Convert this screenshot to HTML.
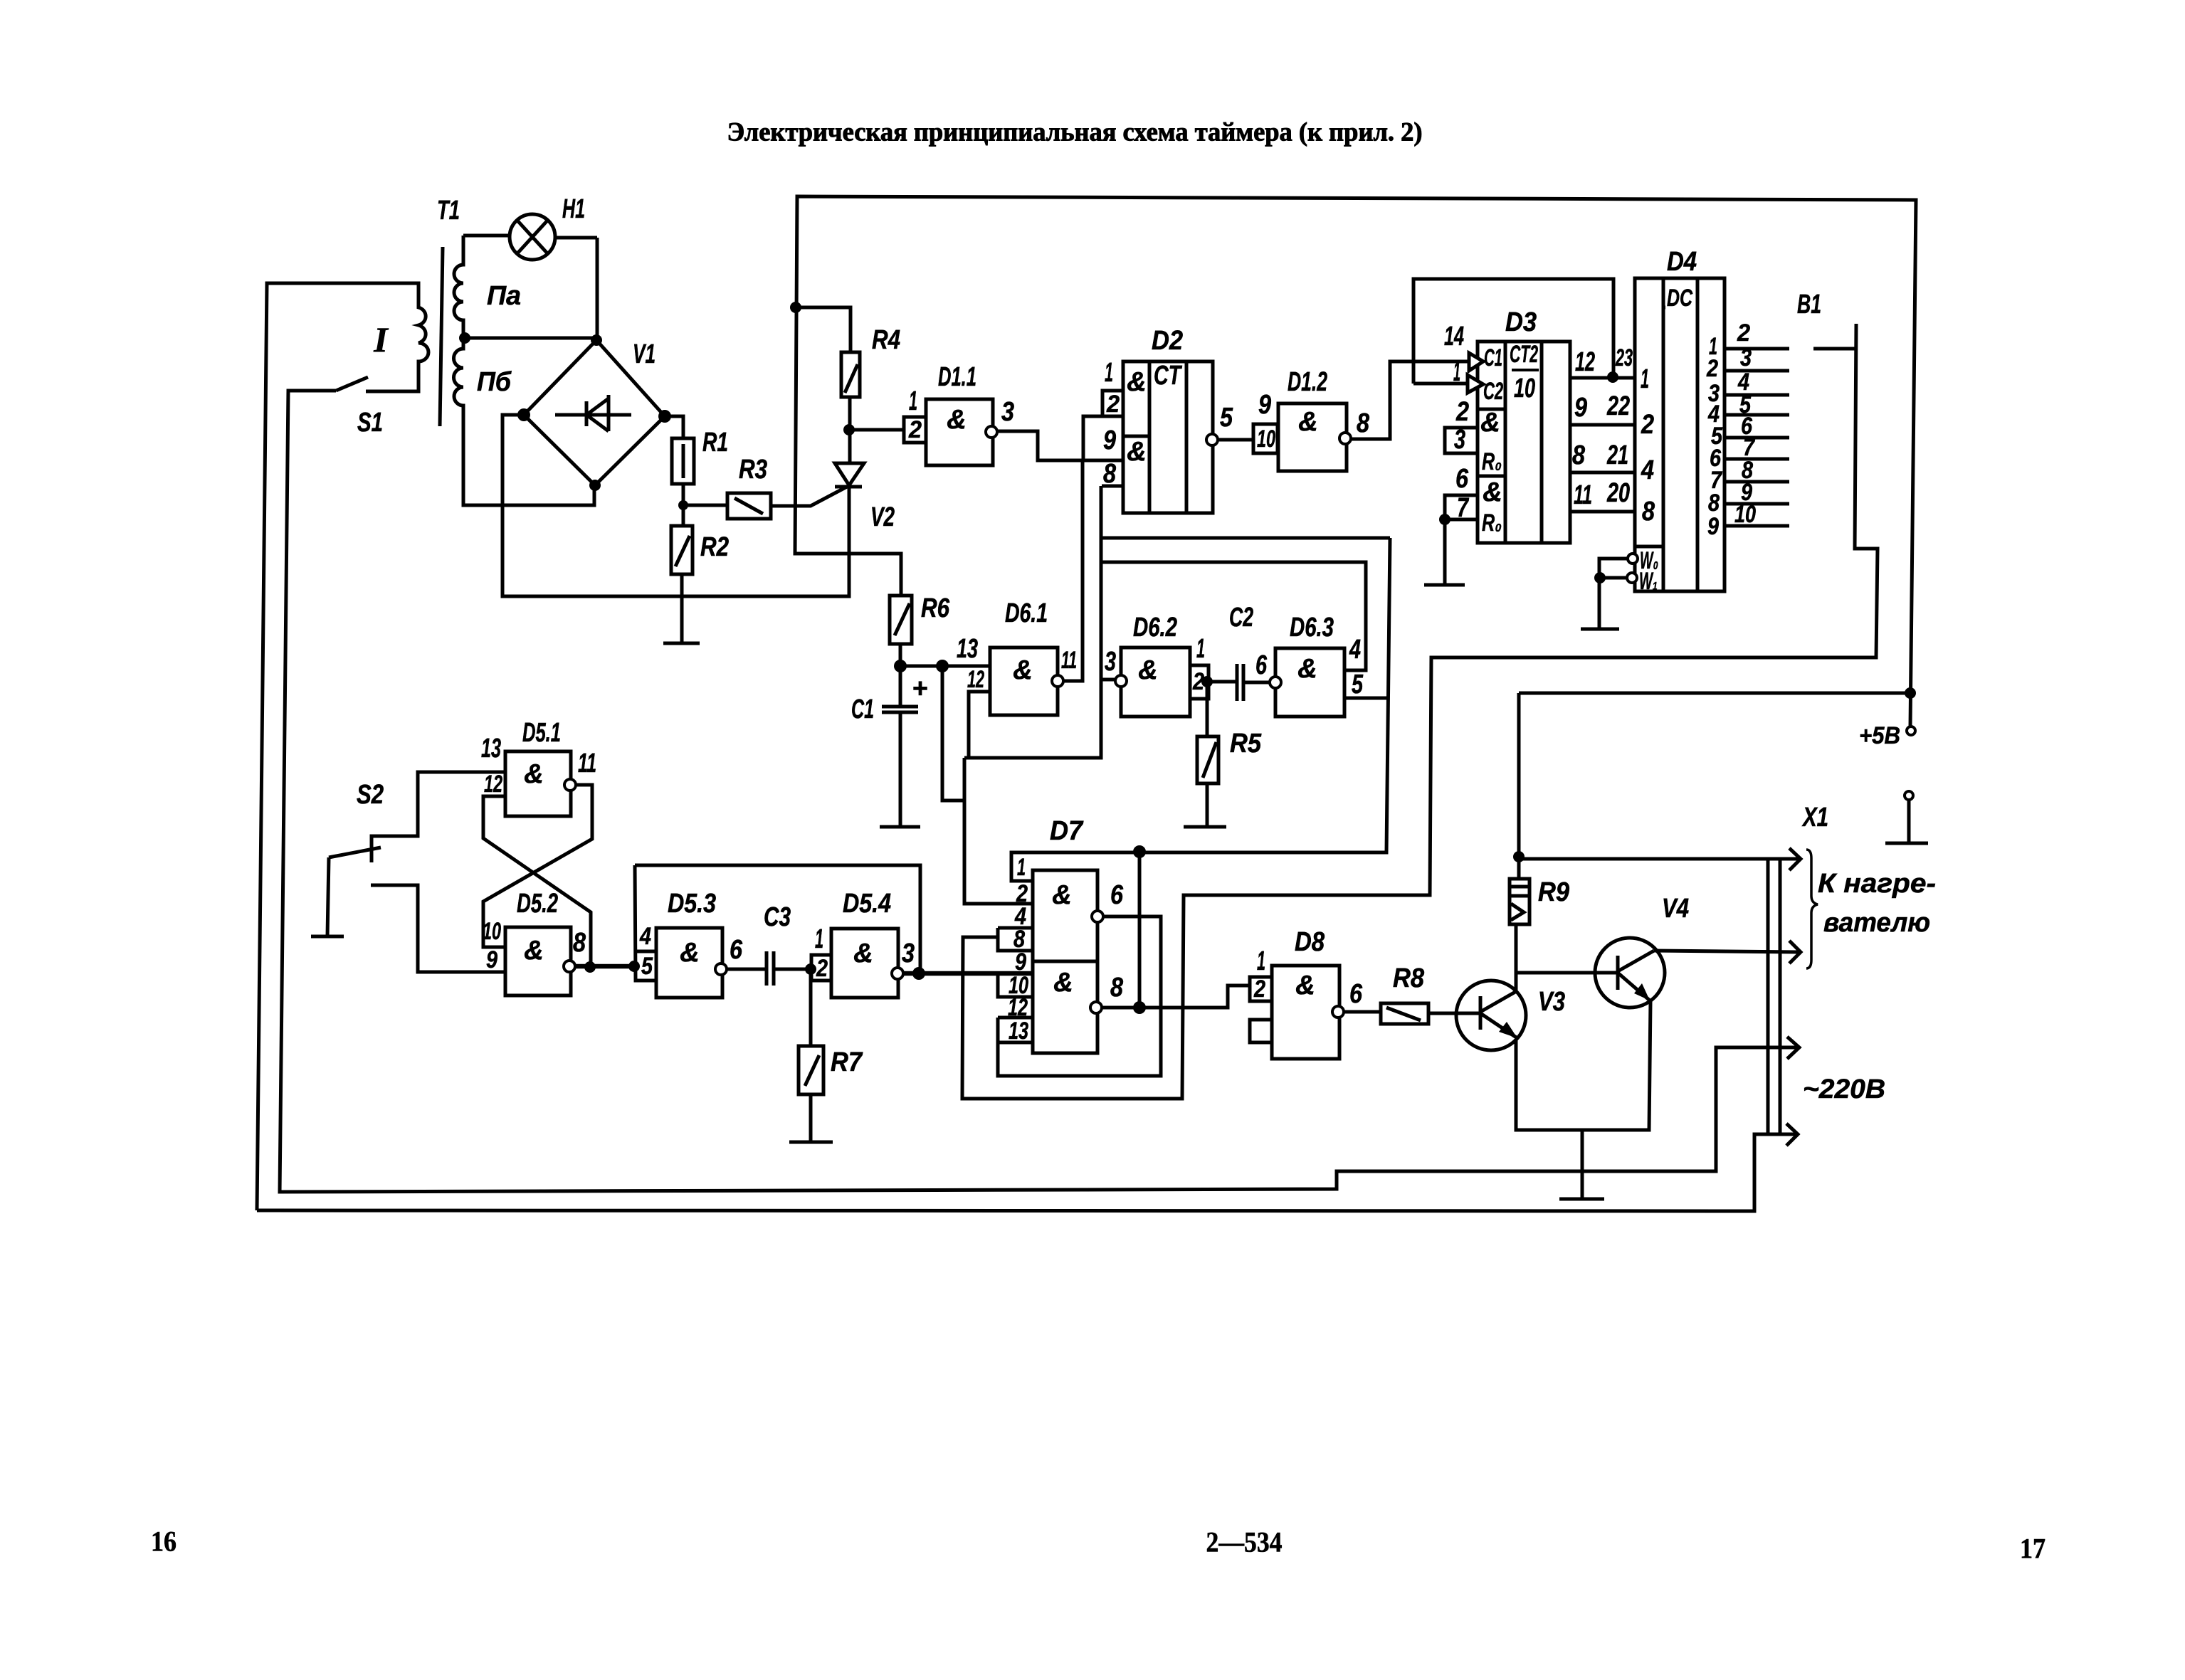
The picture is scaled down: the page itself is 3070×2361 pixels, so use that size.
<!DOCTYPE html>
<html><head><meta charset="utf-8"><style>
html,body{margin:0;padding:0;background:#fff}
svg{display:block}
.w{fill:none;stroke:#000;stroke-width:5;stroke-linejoin:miter}
.t{stroke-width:3.5}
.b{stroke-width:6.5}
.n{fill:#000}
.o{fill:#fff;stroke:#000;stroke-width:4}
text{font-family:"Liberation Sans","Noto Sans CJK SC",sans-serif;font-style:italic;font-weight:bold;font-size:38px;text-anchor:middle;dominant-baseline:central;fill:#000;stroke:#000;stroke-width:.6}
.s{font-size:34px}
.h{font-family:"Liberation Serif","Noto Serif CJK SC",serif;font-style:normal;font-weight:bold;font-size:37px;stroke-width:1}
.p{font-family:"Liberation Serif","Noto Serif CJK SC",serif;font-style:normal;font-weight:bold;font-size:40px}
.i{font-family:"Liberation Serif",serif;font-size:50px}
</style></head><body>
<svg xmlns="http://www.w3.org/2000/svg" width="3070" height="2361" viewBox="0 0 3070 2361">
<rect width="3070" height="2361" fill="#fff"/>
<g class="w">
<!-- power rail -->
<path d="M1266 837V778H1117L1120 276L2692 281L2684 1021"/>
<path d="M1118 432H1195V495M1194 558V651M1193 604H1270M1193 684V838H706V583H736M1085 711H1139L1190 684M960 710H1022"/>
<path d="M838 478L934 585L836 682L736 583Z"/>
<path d="M653 475H838M839 334V478M651 331H716M780 334H839"/>
<path d="M651 331V372a13 13 0 0 0 0 26a13 13 0 0 0 0 26a13 13 0 0 0 0 26V490a13 13 0 0 0 0 27a13 13 0 0 0 0 27a13 13 0 0 0 0 26V710H835V682"/>
<path d="M622 347L618 599"/>
<path d="M361 1701L375 398H588V432a14 13 0 0 1 0 25a14 13 0 0 1 0 25a14 13 0 0 1 0 26V550H514M472 549L517 530M472 549H405L393 1675L1878 1671V1646H2411V1472H2527"/>
<path d="M361 1701L2465 1702V1594H2525"/>
<path d="M934 585H960V616M960 680V739M958 807V904M932 904H983"/>
<path d="M2511 1457L2528 1472L2511 1488M2510 1579L2526 1594L2510 1610M2514 1192L2530 1207L2514 1223M2514 1322L2530 1338L2514 1354"/>
<!-- lamp -->
<circle cx="748" cy="333" r="32"/><path d="M727 310L769 356M769 310L727 356"/>
<!-- bridge diode -->
<path d="M780 583H887M824 564V599M855 555V606M824 583L855 560M824 583L855 606"/>
<!-- resistors R1 R2 R3 R4 -->
<rect x="944" y="616" width="31" height="64"/><path d="M960 624V672"/>
<rect x="943" y="739" width="30" height="68"/><path d="M949 796L969 753"/>
<rect x="1022" y="693" width="61" height="36"/><path d="M1032 700L1072 722"/>
<rect x="1182" y="495" width="26" height="63"/><path d="M1187 552L1205 512"/>
<path d="M1173 651H1214L1193 682ZM1173 684H1211"/>
<!-- D1.1 -->
<rect x="1301" y="561" width="94" height="93"/><rect x="1270" y="586" width="31" height="36"/>
<path d="M1401 606H1458V647H1576M1522 647V585H1576M1549 585V549H1576M1548 683H1576M1521 647V957H1494"/>
<!-- D2 -->
<rect x="1578" y="508" width="126" height="213"/><path d="M1615 508V721M1667 508V721M1578 613H1615"/>
<path d="M1712 618H1761"/><rect x="1761" y="596" width="34" height="41"/>
<rect x="1796" y="567" width="96" height="95"/>
<path d="M1898 617H1953V508H2064M1986 539V392H2267V530M1986 539H2062"/>
<!-- D3 -->
<rect x="2076" y="480" width="130" height="283"/><path d="M2115 480V763M2166 480V763M2076 575H2115M2076 669H2115"/>
<path d="M2064 496V521L2084 508ZM2062 527V552L2084 540Z" fill="#fff"/>
<path d="M2076 601H2030V637H2076M2076 696H2030V821M2030 730H2076M2001 822H2058"/>
<path d="M2206 531H2297M2206 597H2297M2206 664H2297M2206 719H2297"/>
<!-- D4 -->
<rect x="2297" y="391" width="126" height="440"/><path d="M2337 391V831M2385 391V831M2297 768H2337M2337 432H2340"/>
<path d="M2286 785H2247V884M2248 812H2285M2221 884H2275"/>
<path d="M2423 490H2514M2423 521H2514M2423 555H2514M2423 583H2514M2423 615H2514M2423 645H2514M2423 677H2514M2423 708H2514M2423 739H2514"/>
<path d="M2548 490H2607M2608 455L2606 771H2638L2636 924H2011L2009 1258H1663L1661 1544H1352L1353 1317H1402"/>
<!-- D6 block -->
<rect x="1391" y="910" width="95" height="95"/>
<path d="M1265 905V993M1265 1001V1162M1236 1162H1293M1239 993H1290M1239 1001H1290M1265 936H1391"/>
<rect x="1250" y="837" width="31" height="68"/><path d="M1257 893L1278 848"/>
<path d="M1324 936V1125H1355M1391 972H1361V1065M1355 1065H1547V683M1547 955H1567"/>
<rect x="1575" y="910" width="97" height="97"/><rect x="1672" y="935" width="26" height="47"/>
<path d="M1696 958V1035M1696 1101V1162M1663 1162H1723M1698 958H1738M1747 959H1784M1738 933V985M1747 933V985"/>
<rect x="1682" y="1035" width="30" height="66"/><path d="M1690 1093L1709 1043"/>
<rect x="1792" y="911" width="97" height="96"/>
<path d="M1889 942H1919V790H1548M1889 981H1948M1953 756H1548M1953 756L1948 1198H1421V1238H1451"/>
<!-- D5 -->
<rect x="710" y="1056" width="92" height="91"/><rect x="710" y="1303" width="92" height="96"/>
<path d="M810 1103H832V1179L679 1267V1331H710M710 1119H679V1178L830 1282V1358"/>
<path d="M710 1085H587V1175H522V1206M462 1205L535 1191M522 1190V1212M462 1205L460 1316M437 1316H483M521 1244H587V1366H710"/>
<path class="b" d="M808 1358H891"/>
<rect x="922" y="1304" width="93" height="98"/>
<path d="M892 1216L893 1378H922M893 1337H922M892 1216H1293V1368"/>
<path d="M1022 1362H1077M1087 1362H1139M1077 1337V1385M1087 1337V1385"/>
<rect x="1168" y="1305" width="94" height="97"/><rect x="1140" y="1342" width="28" height="36"/>
<path d="M1139 1362V1470M1139 1538V1605M1109 1605H1170"/>
<rect x="1122" y="1470" width="35" height="68"/><path d="M1131 1526L1151 1483"/>
<path class="b" d="M1270 1368H1451"/>
<!-- D7 -->
<rect x="1451" y="1223" width="91" height="257"/><path d="M1451 1351H1542"/>
<path d="M1421 1196V1238M1355 1065V1270H1451M1402 1304H1451M1402 1304V1336H1451M1402 1371V1401H1451M1402 1430H1451M1402 1465H1451M1402 1430V1512H1631V1288H1550M1548 1416H1725V1385H1756M1601 1197V1416"/>
<!-- D8 -->
<rect x="1787" y="1357" width="95" height="131"/><rect x="1756" y="1373" width="31" height="34"/><rect x="1756" y="1433" width="31" height="32"/>
<path d="M1888 1422H1940M2007 1424H2080"/>
<rect x="1940" y="1410" width="67" height="29"/><path d="M1948 1416L1996 1434"/>
<!-- transistors -->
<circle cx="2095" cy="1427" r="49"/><circle cx="2290" cy="1367" r="49"/>
<path d="M2080 1400V1447M2080 1422L2129 1394M2080 1424L2132 1459M2273 1343V1391M2273 1365L2324 1336M2273 1367L2318 1406"/>
<path d="M2134 974V1235M2134 974H2684M2134 1207H2527M2130 1299V1394M2130 1367H2273M2130 1460V1588H2317L2319 1407M2223 1588V1685M2191 1685H2254M2324 1336L2527 1338"/>
<rect x="2121" y="1235" width="28" height="64"/><path d="M2121 1246H2149M2121 1259H2149M2123 1270L2141 1282L2123 1293"/>
<path d="M2484 1207V1594M2501 1207V1594"/>
<path class="t" d="M2538 1194q7 0 7 12V1259q0 10 9 12q-9 2 -9 12V1349q0 12 -7 12"/>
<path d="M2682 1124V1185M2649 1185H2709"/>
</g>
<g class="n">
<circle cx="1118" cy="432" r="8"/><circle cx="1193" cy="604" r="8"/><circle cx="838" cy="478" r="8"/><circle cx="653" cy="475" r="8"/><circle cx="736" cy="583" r="9"/><circle cx="934" cy="585" r="9"/><circle cx="836" cy="682" r="8"/><circle cx="960" cy="710" r="7"/>
<circle cx="2030" cy="730" r="8"/><circle cx="2266" cy="530" r="8"/><circle cx="2248" cy="812" r="8"/><circle cx="2684" cy="974" r="8"/><circle cx="2134" cy="1204" r="8"/>
<circle cx="1265" cy="936" r="9"/><circle cx="1324" cy="936" r="9"/><circle cx="1696" cy="958" r="8"/><circle cx="1601" cy="1197" r="9"/><circle cx="1601" cy="1416" r="9"/>
<circle cx="829" cy="1359" r="8"/><circle cx="891" cy="1358" r="8"/><circle cx="1139" cy="1362" r="8"/><circle cx="1291" cy="1368" r="9"/>
<polygon points="2132,1459 2106,1450 2117,1436"/><polygon points="2318,1406 2296,1396 2307,1382"/>
</g>
<g class="o">
<circle cx="1393" cy="607" r="8"/><circle cx="1703" cy="618" r="8"/><circle cx="1890" cy="616" r="8"/><circle cx="2294" cy="785" r="7"/><circle cx="2293" cy="812" r="7"/>
<circle cx="1486" cy="957" r="8"/><circle cx="1575" cy="957" r="8"/><circle cx="1792" cy="959" r="8"/>
<circle cx="801" cy="1103" r="8"/><circle cx="800" cy="1358" r="8"/><circle cx="1013" cy="1362" r="8"/><circle cx="1261" cy="1368" r="8"/>
<circle cx="1542" cy="1288" r="8"/><circle cx="1540" cy="1416" r="8"/><circle cx="1880" cy="1422" r="8"/><circle cx="2685" cy="1027" r="6"/><circle cx="2682" cy="1118" r="6"/>
</g>
<text class="h" x="1510" y="186" textLength="977" lengthAdjust="spacingAndGlyphs">Электрическая принципиальная схема таймера (к прил. 2)</text>
<text class="p" x="230" y="2166" textLength="36" lengthAdjust="spacingAndGlyphs">16</text>
<text class="p" x="1748" y="2167" textLength="107" lengthAdjust="spacingAndGlyphs">2—534</text>
<text class="p" x="2856" y="2176" textLength="36" lengthAdjust="spacingAndGlyphs">17</text>
<text x="630" y="296" textLength="32" lengthAdjust="spacingAndGlyphs">T1</text>
<text x="806" y="294" textLength="32" lengthAdjust="spacingAndGlyphs">H1</text>
<text x="708" y="416" textLength="48" lengthAdjust="spacingAndGlyphs">Пa</text>
<text x="694" y="537" textLength="48" lengthAdjust="spacingAndGlyphs">Пб</text>
<text class="i" x="535" y="477">I</text>
<text x="520" y="594" textLength="36" lengthAdjust="spacingAndGlyphs">S1</text>
<text x="905" y="498" textLength="32" lengthAdjust="spacingAndGlyphs">V1</text>
<text x="1005" y="622" textLength="36" lengthAdjust="spacingAndGlyphs">R1</text>
<text x="1058" y="660" textLength="40" lengthAdjust="spacingAndGlyphs">R3</text>
<text x="1004" y="769" textLength="40" lengthAdjust="spacingAndGlyphs">R2</text>
<text x="1245" y="478" textLength="40" lengthAdjust="spacingAndGlyphs">R4</text>
<text x="1240" y="727" textLength="34" lengthAdjust="spacingAndGlyphs">V2</text>
<text x="1345" y="530" textLength="54" lengthAdjust="spacingAndGlyphs">D1.1</text>
<text x="1344" y="590">&amp;</text>
<text x="1283" y="564" textLength="12" lengthAdjust="spacingAndGlyphs">1</text>
<text class="s" x="1286" y="604" textLength="18" lengthAdjust="spacingAndGlyphs">2</text>
<text x="1416" y="579" textLength="18" lengthAdjust="spacingAndGlyphs">3</text>
<text x="1640" y="479" textLength="44" lengthAdjust="spacingAndGlyphs">D2</text>
<text x="1558" y="524" textLength="12" lengthAdjust="spacingAndGlyphs">1</text>
<text class="s" x="1564" y="568" textLength="18" lengthAdjust="spacingAndGlyphs">2</text>
<text x="1559" y="619" textLength="18" lengthAdjust="spacingAndGlyphs">9</text>
<text x="1559" y="666" textLength="18" lengthAdjust="spacingAndGlyphs">8</text>
<text x="1597" y="537">&amp;</text><text x="1597" y="635">&amp;</text>
<text x="1640" y="528" textLength="38" lengthAdjust="spacingAndGlyphs">CT</text>
<text x="1723" y="587" textLength="18" lengthAdjust="spacingAndGlyphs">5</text>
<text x="1777" y="569" textLength="18" lengthAdjust="spacingAndGlyphs">9</text>
<text class="s" x="1779" y="617" textLength="26" lengthAdjust="spacingAndGlyphs">10</text>
<text x="1837" y="537" textLength="56" lengthAdjust="spacingAndGlyphs">D1.2</text>
<text x="1838" y="593">&amp;</text>
<text x="1915" y="595" textLength="18" lengthAdjust="spacingAndGlyphs">8</text>
<text x="2137" y="453" textLength="44" lengthAdjust="spacingAndGlyphs">D3</text>
<text x="2043" y="473" textLength="28" lengthAdjust="spacingAndGlyphs">14</text>
<text x="2047" y="523" textLength="10" lengthAdjust="spacingAndGlyphs">1</text>
<text class="s" x="2098" y="503" textLength="26" lengthAdjust="spacingAndGlyphs">C1</text>
<text class="s" x="2098" y="550" textLength="28" lengthAdjust="spacingAndGlyphs">C2</text>
<text class="s" x="2141" y="498" textLength="40" lengthAdjust="spacingAndGlyphs">CT2</text>
<path d="M2124 520H2162" stroke="#000" stroke-width="4"/>
<text x="2142" y="546" textLength="30" lengthAdjust="spacingAndGlyphs">10</text>
<text x="2055" y="579" textLength="18" lengthAdjust="spacingAndGlyphs">2</text>
<text x="2051" y="618" textLength="16" lengthAdjust="spacingAndGlyphs">3</text>
<text x="2094" y="594">&amp;</text>
<text class="s" x="2096" y="649" textLength="28" lengthAdjust="spacingAndGlyphs">R₀</text>
<text x="2054" y="673" textLength="18" lengthAdjust="spacingAndGlyphs">6</text>
<text x="2055" y="714" textLength="16" lengthAdjust="spacingAndGlyphs">7</text>
<text x="2097" y="692">&amp;</text>
<text class="s" x="2096" y="735" textLength="28" lengthAdjust="spacingAndGlyphs">R₀</text>
<text x="2227" y="509" textLength="28" lengthAdjust="spacingAndGlyphs">12</text>
<text class="s" x="2282" y="503" textLength="24" lengthAdjust="spacingAndGlyphs">23</text>
<text x="2221" y="573" textLength="18" lengthAdjust="spacingAndGlyphs">9</text>
<text x="2274" y="571" textLength="32" lengthAdjust="spacingAndGlyphs">22</text>
<text x="2218" y="640" textLength="18" lengthAdjust="spacingAndGlyphs">8</text>
<text x="2273" y="640" textLength="30" lengthAdjust="spacingAndGlyphs">21</text>
<text x="2224" y="696" textLength="26" lengthAdjust="spacingAndGlyphs">11</text>
<text x="2274" y="693" textLength="32" lengthAdjust="spacingAndGlyphs">20</text>
<text x="2363" y="368" textLength="42" lengthAdjust="spacingAndGlyphs">D4</text>
<text class="s" x="2360" y="419" textLength="36" lengthAdjust="spacingAndGlyphs">DC</text>
<text x="2311" y="533" textLength="12" lengthAdjust="spacingAndGlyphs">1</text>
<text x="2315" y="597" textLength="18" lengthAdjust="spacingAndGlyphs">2</text>
<text x="2315" y="661" textLength="18" lengthAdjust="spacingAndGlyphs">4</text>
<text x="2316" y="719" textLength="18" lengthAdjust="spacingAndGlyphs">8</text>
<text class="s" x="2317" y="788" textLength="26" lengthAdjust="spacingAndGlyphs">W₀</text>
<text class="s" x="2316" y="817" textLength="26" lengthAdjust="spacingAndGlyphs">W₁</text>
<text class="s" x="2407" y="487" textLength="12" lengthAdjust="spacingAndGlyphs">1</text>
<text class="s" x="2406" y="518" textLength="16" lengthAdjust="spacingAndGlyphs">2</text>
<text class="s" x="2408" y="553" textLength="16" lengthAdjust="spacingAndGlyphs">3</text>
<text class="s" x="2408" y="582" textLength="16" lengthAdjust="spacingAndGlyphs">4</text>
<text class="s" x="2412" y="613" textLength="16" lengthAdjust="spacingAndGlyphs">5</text>
<text class="s" x="2410" y="644" textLength="16" lengthAdjust="spacingAndGlyphs">6</text>
<text class="s" x="2411" y="675" textLength="16" lengthAdjust="spacingAndGlyphs">7</text>
<text class="s" x="2408" y="707" textLength="16" lengthAdjust="spacingAndGlyphs">8</text>
<text class="s" x="2407" y="740" textLength="16" lengthAdjust="spacingAndGlyphs">9</text>
<text class="s" x="2450" y="468" textLength="18" lengthAdjust="spacingAndGlyphs">2</text>
<text class="s" x="2453" y="503" textLength="16" lengthAdjust="spacingAndGlyphs">3</text>
<text class="s" x="2450" y="537" textLength="16" lengthAdjust="spacingAndGlyphs">4</text>
<text class="s" x="2452" y="569" textLength="16" lengthAdjust="spacingAndGlyphs">5</text>
<text class="s" x="2454" y="599" textLength="16" lengthAdjust="spacingAndGlyphs">6</text>
<text class="s" x="2457" y="629" textLength="16" lengthAdjust="spacingAndGlyphs">7</text>
<text class="s" x="2455" y="661" textLength="16" lengthAdjust="spacingAndGlyphs">8</text>
<text class="s" x="2454" y="692" textLength="16" lengthAdjust="spacingAndGlyphs">9</text>
<text class="s" x="2452" y="723" textLength="30" lengthAdjust="spacingAndGlyphs">10</text>
<text x="2542" y="428" textLength="34" lengthAdjust="spacingAndGlyphs">B1</text>
<text x="1314" y="855" textLength="40" lengthAdjust="spacingAndGlyphs">R6</text>
<text x="1442" y="862" textLength="60" lengthAdjust="spacingAndGlyphs">D6.1</text>
<text x="1359" y="912" textLength="30" lengthAdjust="spacingAndGlyphs">13</text>
<text class="s" x="1371" y="955" textLength="24" lengthAdjust="spacingAndGlyphs">12</text>
<text x="1437" y="942">&amp;</text>
<text class="s" x="1502" y="928" textLength="22" lengthAdjust="spacingAndGlyphs">11</text>
<text x="1293" y="968" textLength="22" lengthAdjust="spacingAndGlyphs" style="font-style:normal">+</text>
<text x="1212" y="997" textLength="32" lengthAdjust="spacingAndGlyphs">C1</text>
<text x="1623" y="882" textLength="62" lengthAdjust="spacingAndGlyphs">D6.2</text>
<text x="1613" y="942">&amp;</text>
<text x="1560" y="930" textLength="16" lengthAdjust="spacingAndGlyphs">3</text>
<text x="1687" y="912" textLength="12" lengthAdjust="spacingAndGlyphs">1</text>
<text class="s" x="1684" y="958" textLength="16" lengthAdjust="spacingAndGlyphs">2</text>
<text x="1744" y="868" textLength="34" lengthAdjust="spacingAndGlyphs">C2</text>
<text x="1772" y="935" textLength="16" lengthAdjust="spacingAndGlyphs">6</text>
<text x="1843" y="882" textLength="62" lengthAdjust="spacingAndGlyphs">D6.3</text>
<text x="1837" y="940">&amp;</text>
<text x="1904" y="913" textLength="16" lengthAdjust="spacingAndGlyphs">4</text>
<text x="1907" y="962" textLength="16" lengthAdjust="spacingAndGlyphs">5</text>
<text x="1750" y="1045" textLength="44" lengthAdjust="spacingAndGlyphs">R5</text>
<text x="1498" y="1168" textLength="46" lengthAdjust="spacingAndGlyphs">D7</text>
<text class="s" x="1435" y="1219" textLength="12" lengthAdjust="spacingAndGlyphs">1</text>
<text class="s" x="1436" y="1256" textLength="16" lengthAdjust="spacingAndGlyphs">2</text>
<text class="s" x="1434" y="1288" textLength="16" lengthAdjust="spacingAndGlyphs">4</text>
<text class="s" x="1432" y="1320" textLength="16" lengthAdjust="spacingAndGlyphs">8</text>
<text class="s" x="1434" y="1352" textLength="16" lengthAdjust="spacingAndGlyphs">9</text>
<text class="s" x="1431" y="1385" textLength="28" lengthAdjust="spacingAndGlyphs">10</text>
<text class="s" x="1430" y="1416" textLength="28" lengthAdjust="spacingAndGlyphs">12</text>
<text class="s" x="1431" y="1449" textLength="28" lengthAdjust="spacingAndGlyphs">13</text>
<text x="1492" y="1258">&amp;</text><text x="1494" y="1381">&amp;</text>
<text x="1569" y="1258" textLength="18" lengthAdjust="spacingAndGlyphs">6</text>
<text x="1569" y="1388" textLength="18" lengthAdjust="spacingAndGlyphs">8</text>
<text x="1840" y="1324" textLength="42" lengthAdjust="spacingAndGlyphs">D8</text>
<text x="1772" y="1351" textLength="12" lengthAdjust="spacingAndGlyphs">1</text>
<text class="s" x="1770" y="1390" textLength="16" lengthAdjust="spacingAndGlyphs">2</text>
<text x="1834" y="1385">&amp;</text>
<text x="1905" y="1397" textLength="18" lengthAdjust="spacingAndGlyphs">6</text>
<text x="1979" y="1375" textLength="44" lengthAdjust="spacingAndGlyphs">R8</text>
<text x="2183" y="1254" textLength="44" lengthAdjust="spacingAndGlyphs">R9</text>
<text x="2354" y="1277" textLength="38" lengthAdjust="spacingAndGlyphs">V4</text>
<text x="2180" y="1408" textLength="38" lengthAdjust="spacingAndGlyphs">V3</text>
<text x="2551" y="1149" textLength="36" lengthAdjust="spacingAndGlyphs">X1</text>
<text x="2637" y="1242" textLength="166" lengthAdjust="spacingAndGlyphs">К нагре-</text>
<text x="2637" y="1297" textLength="150" lengthAdjust="spacingAndGlyphs">вателю</text>
<text x="2591" y="1531" textLength="116" lengthAdjust="spacingAndGlyphs">~220В</text>
<text class="s" x="2641" y="1034" textLength="58" lengthAdjust="spacingAndGlyphs">+5В</text>
<text x="761" y="1030" textLength="54" lengthAdjust="spacingAndGlyphs">D5.1</text>
<text x="690" y="1052" textLength="28" lengthAdjust="spacingAndGlyphs">13</text>
<text class="s" x="693" y="1102" textLength="26" lengthAdjust="spacingAndGlyphs">12</text>
<text x="825" y="1073" textLength="26" lengthAdjust="spacingAndGlyphs">11</text>
<text x="750" y="1088">&amp;</text>
<text x="520" y="1117" textLength="38" lengthAdjust="spacingAndGlyphs">S2</text>
<text x="755" y="1270" textLength="58" lengthAdjust="spacingAndGlyphs">D5.2</text>
<text class="s" x="691" y="1309" textLength="26" lengthAdjust="spacingAndGlyphs">10</text>
<text class="s" x="691" y="1349" textLength="16" lengthAdjust="spacingAndGlyphs">9</text>
<text x="814" y="1325" textLength="18" lengthAdjust="spacingAndGlyphs">8</text>
<text x="750" y="1336">&amp;</text>
<text x="972" y="1270" textLength="68" lengthAdjust="spacingAndGlyphs">D5.3</text>
<text class="s" x="907" y="1316" textLength="16" lengthAdjust="spacingAndGlyphs">4</text>
<text class="s" x="909" y="1358" textLength="16" lengthAdjust="spacingAndGlyphs">5</text>
<text x="969" y="1339">&amp;</text>
<text x="1034" y="1335" textLength="18" lengthAdjust="spacingAndGlyphs">6</text>
<text x="1092" y="1289" textLength="38" lengthAdjust="spacingAndGlyphs">C3</text>
<text x="1218" y="1270" textLength="68" lengthAdjust="spacingAndGlyphs">D5.4</text>
<text x="1151" y="1320" textLength="12" lengthAdjust="spacingAndGlyphs">1</text>
<text class="s" x="1155" y="1361" textLength="16" lengthAdjust="spacingAndGlyphs">2</text>
<text x="1213" y="1340">&amp;</text>
<text x="1276" y="1340" textLength="18" lengthAdjust="spacingAndGlyphs">3</text>
<text x="1189" y="1493" textLength="44" lengthAdjust="spacingAndGlyphs">R7</text>
</svg>
</body></html>
